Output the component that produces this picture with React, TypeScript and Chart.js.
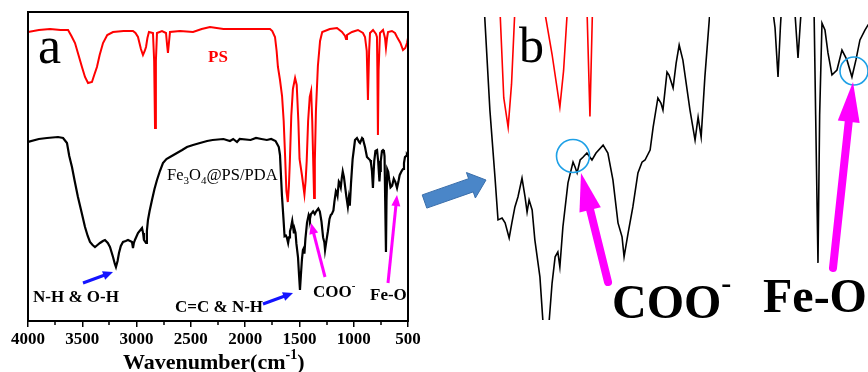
import React, { useEffect, useRef } from "react";
import { Chart, registerables } from "chart.js";

Chart.register(...registerables);

const SERIF = "'Liberation Serif', 'Times New Roman', Times, serif";

// x-axis ticks (cm^-1)
const xTickValues = [4000, 3500, 3000, 2500, 2000, 1500, 1000, 500];
const xMinorTickValues = [3750, 3250, 2750, 2250, 1750, 1250, 750];

// PS spectrum: [wavenumber, transmittance (a.u.)]
const psSpectrum: number[][] = [
  [4000, 289], [3900, 291], [3797, 292], [3700, 291], [3631, 291], [3600, 285], [3567, 278],
  [3535, 266], [3503, 254], [3475, 244], [3447, 238], [3411, 239], [3390, 246], [3365, 254],
  [3340, 266], [3309, 278], [3270, 286], [3217, 289], [3120, 290], [3033, 290], [3010, 288],
  [2987, 284], [2960, 272], [2941, 266], [2925, 270], [2913, 274], [2900, 283], [2886, 289],
  [2849, 288], [2838, 260], [2830, 193], [2822, 260], [2812, 288], [2766, 290], [2729, 288],
  [2718, 275], [2711, 268], [2702, 278], [2692, 289], [2600, 290], [2480, 289], [2400, 292],
  [2324, 294], [2200, 292], [2000, 292], [1850, 292], [1771, 292], [1750, 290], [1725, 284],
  [1710, 270], [1698, 254], [1679, 241], [1660, 225], [1645, 200], [1632, 165], [1620, 130],
  [1607, 119], [1597, 135], [1588, 160], [1575, 205], [1560, 232], [1540, 243], [1525, 236],
  [1510, 200], [1499, 162], [1477, 146], [1454, 126.5], [1443, 140], [1433, 160], [1420, 200],
  [1405, 224], [1392, 230], [1382, 200], [1372, 155], [1365, 123], [1358, 160], [1348, 210],
  [1330, 255], [1310, 280], [1290, 289], [1220, 292], [1154, 293], [1108, 289], [1080, 285],
  [1071, 282], [1062, 286], [1016, 289], [961, 291], [915, 288], [896, 284], [880, 270],
  [869, 221], [858, 270], [850, 288], [822, 291], [795, 287], [786, 284], [782, 250],
  [777, 186], [771, 250], [758, 288], [730, 291], [712, 283], [703, 273], [693, 283],
  [684, 289], [648, 290], [620, 288], [601, 284], [570, 278], [546, 271], [525, 273],
  [509, 278], [500, 283],
];

// Fe3O4@PS/PDA spectrum: [wavenumber, transmittance (a.u.)]
const pdaSpectrum: number[][] = [
  [4000, 179], [3900, 182], [3825, 183], [3724, 184], [3677, 183], [3641, 178], [3620, 165],
  [3595, 154], [3570, 140], [3540, 124], [3505, 108], [3475, 94], [3450, 85], [3429, 79],
  [3405, 76], [3383, 74], [3360, 76], [3337, 78], [3310, 80], [3291, 81], [3265, 78],
  [3245, 74], [3217, 64], [3200, 57], [3190, 54], [3175, 60], [3162, 68], [3145, 75],
  [3125, 79], [3100, 80], [3079, 81], [3060, 80], [3042, 79], [3033, 73], [3025, 78],
  [3015, 81], [2987, 88], [2950, 93], [2940, 88], [2932, 81], [2913, 78], [2905, 90],
  [2895, 101], [2880, 110], [2858, 121], [2835, 132], [2812, 141], [2785, 150], [2757, 158],
  [2725, 162], [2692, 164], [2660, 166], [2628, 168], [2580, 171], [2536, 174], [2480, 176],
  [2416, 178], [2350, 180], [2300, 181], [2200, 182], [2140, 180], [2110, 182], [2075, 179],
  [2050, 182], [1950, 181], [1900, 183], [1850, 182], [1800, 181], [1760, 182], [1720, 180],
  [1705, 177], [1690, 174], [1679, 166], [1661, 125.4], [1646, 100.6], [1637, 84.7],
  [1625, 85.4], [1616, 83.6], [1604, 78], [1596, 83.6], [1587, 89.5], [1578, 93.2],
  [1566, 100.2], [1557, 93.2], [1551, 87.6], [1545, 92.1], [1536, 88.4], [1528, 77.3],
  [1513, 63.6], [1503, 45], [1495, 31], [1487, 45], [1477, 61.3], [1468, 71], [1460, 72.8],
  [1454, 67.3], [1445, 82.1], [1430, 98.4], [1415, 106.1], [1409, 104.3], [1403, 102.1],
  [1394, 106.9], [1385, 108], [1374, 109.5], [1359, 106.9], [1347, 109.5], [1326, 112.4],
  [1312, 109.5], [1297, 99.5], [1282, 83.6], [1270, 78.4], [1264, 71], [1252, 79.9],
  [1238, 89.5], [1223, 102.1], [1211, 106.1], [1202, 106.9], [1187, 110.6], [1178, 119.1],
  [1164, 129.9], [1155, 128], [1149, 125.4], [1137, 139.5], [1131, 138.4], [1119, 133.6],
  [1110, 142.8], [1101, 149.5], [1090, 143.9], [1069, 125.4], [1054, 114.3], [1045, 122.8],
  [1036, 115.4], [1025, 137.6], [1010, 162], [988, 181], [970, 183], [950, 179], [942, 178],
  [923, 183], [915, 182], [896, 174], [878, 164], [860, 162], [850, 161], [841, 158],
  [832, 150], [823, 133], [816, 150], [811, 160], [800, 170], [785, 171], [775, 160],
  [768, 148], [763, 139.6], [757, 150], [751, 160], [740, 170], [730, 171], [722, 170],
  [716, 165], [710, 120], [703, 68.9], [698, 120], [691, 151.6], [682, 149.2], [673, 141.3],
  [661, 133.7], [646, 135.4], [631, 142.3], [616, 138.9], [601, 133], [589, 138.9],
  [577, 145.8], [562, 149.2], [553, 150.9], [546, 152], [537, 158], [528, 164], [518, 165],
  [510, 166], [500, 164],
];

// zoom windows used in panel b: [wavenumber from, wavenumber to], [signal min, signal max]
const zoomCOO = { x: [1009.8, 1681.4], y: [47.6, 159.9] };
const zoomFeO = { x: [552.8, 841.1], y: [49.2, 153.7] };

const toPoints = (arr: number[][]) => arr.map(([x, y]) => ({ x, y }));

const framePlugin = {
  id: "frameAndMinor",
  afterDraw(chart: any) {
    const { ctx, chartArea } = chart;
    const xs = chart.scales.x;
    ctx.save();
    ctx.strokeStyle = "#000";
    ctx.lineWidth = 2;
    ctx.strokeRect(chartArea.left, chartArea.top, chartArea.right - chartArea.left, chartArea.bottom - chartArea.top);
    ctx.lineWidth = 1.5;
    ctx.beginPath();
    xMinorTickValues.forEach((v) => {
      const px = Math.round(xs.getPixelForValue(v));
      ctx.moveTo(px, chartArea.bottom);
      ctx.lineTo(px, chartArea.bottom + 4);
    });
    ctx.stroke();
    ctx.restore();
  },
};

function MainChart() {
  const ref = useRef<HTMLCanvasElement>(null);
  useEffect(() => {
    const chart = new Chart(ref.current as HTMLCanvasElement, {
      type: "line",
      data: {
        datasets: [
          { label: "PS", data: toPoints(psSpectrum), borderColor: "#ff0000", borderWidth: 2, pointRadius: 0, tension: 0 },
          { label: "Fe3O4@PS/PDA", data: toPoints(pdaSpectrum), borderColor: "#000000", borderWidth: 2.2, pointRadius: 0, tension: 0 },
        ],
      },
      options: {
        animation: false,
        responsive: false,
        maintainAspectRatio: false,
        layout: { padding: { left: 28, right: 16, top: 12, bottom: 0 } },
        plugins: { legend: { display: false }, tooltip: { enabled: false } },
        scales: {
          x: {
            type: "linear",
            min: 500,
            max: 4000,
            reverse: true,
            afterBuildTicks: (s: any) => {
              s.ticks = xTickValues.map((v) => ({ value: v }));
            },
            afterFit: (s: any) => {
              s.height = 51;
            },
            ticks: {
              font: { family: SERIF, size: 17, weight: "bold" },
              color: "#000",
              padding: 2,
              maxRotation: 0,
              autoSkip: false,
              callback: (v: any) => String(v),
            },
            grid: { drawOnChartArea: false, drawTicks: true, tickLength: 6, color: "#000", lineWidth: 1.5 },
            border: { display: false },
          },
          y: { display: false, min: 0, max: 309 },
        },
      } as any,
      plugins: [framePlugin],
    });
    return () => chart.destroy();
  }, []);
  return (
    <canvas
      ref={ref}
      width={424}
      height={372}
      style={{ position: "absolute", left: 0, top: 0, width: 424, height: 372 }}
    />
  );
}

function ZoomChart(props: { left: number; top: number; width: number; height: number; win: { x: number[]; y: number[] } }) {
  const ref = useRef<HTMLCanvasElement>(null);
  const { left, top, width, height, win } = props;
  useEffect(() => {
    const chart = new Chart(ref.current as HTMLCanvasElement, {
      type: "line",
      data: {
        datasets: [
          { data: toPoints(psSpectrum), borderColor: "#ff0000", borderWidth: 1.6, pointRadius: 0, tension: 0, clip: 0 },
          { data: toPoints(pdaSpectrum), borderColor: "#000000", borderWidth: 1.6, pointRadius: 0, tension: 0, clip: 0 },
        ],
      },
      options: {
        animation: false,
        responsive: false,
        maintainAspectRatio: false,
        layout: { padding: 0 },
        plugins: { legend: { display: false }, tooltip: { enabled: false } },
        scales: {
          x: { type: "linear", display: false, min: win.x[0], max: win.x[1], reverse: true },
          y: { display: false, min: win.y[0], max: win.y[1] },
        },
      } as any,
    });
    return () => chart.destroy();
  }, []);
  return (
    <canvas ref={ref} width={width} height={height} style={{ position: "absolute", left, top, width, height }} />
  );
}

function arrow(x1: number, y1: number, x2: number, y2: number, headLen: number, headW: number) {
  const dx = x2 - x1, dy = y2 - y1, L = Math.hypot(dx, dy);
  const ux = dx / L, uy = dy / L, nx = -uy, ny = ux;
  const bx = x2 - ux * headLen, by = y2 - uy * headLen;
  return {
    line: { x1, y1, x2: bx + ux * 2, y2: by + uy * 2 },
    head: `${x2},${y2} ${bx + (nx * headW) / 2},${by + (ny * headW) / 2} ${bx - (nx * headW) / 2},${by - (ny * headW) / 2}`,
  };
}

function Arrow(p: { x1: number; y1: number; x2: number; y2: number; w: number; hl: number; hw: number; color: string; cap?: string }) {
  const a = arrow(p.x1, p.y1, p.x2, p.y2, p.hl, p.hw);
  return (
    <g>
      <line {...a.line} stroke={p.color} strokeWidth={p.w} strokeLinecap={(p.cap as any) || "butt"} />
      <polygon points={a.head} fill={p.color} />
    </g>
  );
}

function blockArrow(tx: number, ty: number, px: number, py: number, s: number, h: number, hl: number) {
  const dx = px - tx, dy = py - ty, L = Math.hypot(dx, dy);
  const ux = dx / L, uy = dy / L, nx = -uy, ny = ux;
  const bx = px - ux * hl, by = py - uy * hl;
  const pts = [
    [tx + nx * s, ty + ny * s],
    [bx + nx * s, by + ny * s],
    [bx + nx * h, by + ny * h],
    [px, py],
    [bx - nx * h, by - ny * h],
    [bx - nx * s, by - ny * s],
    [tx - nx * s, ty - ny * s],
  ];
  return pts.map((q) => q.join(",")).join(" ");
}

function Overlay() {
  const tf = { fontFamily: SERIF, fill: "#000" } as any;
  return (
    <svg width={868} height={372} style={{ position: "absolute", left: 0, top: 0, pointerEvents: "none" }}>
      {/* panel a labels */}
      <text x={38} y={63} fontSize={52} {...tf}>a</text>
      <text x={208} y={62} fontSize={17} fontWeight="bold" fontFamily={SERIF} fill="#ff0000">PS</text>
      <text x={167} y={180} fontSize={16.5} {...tf}>
        Fe<tspan fontSize={11} dy={4}>3</tspan>
        <tspan dy={-4}>O</tspan>
        <tspan fontSize={11} dy={4}>4</tspan>
        <tspan dy={-4}>@PS/PDA</tspan>
      </text>
      <text x={33} y={302} fontSize={17} fontWeight="bold" {...tf}>{"N-H & O-H"}</text>
      <text x={175} y={312} fontSize={17} fontWeight="bold" {...tf}>{"C=C & N-H"}</text>
      <text x={313} y={297} fontSize={17} fontWeight="bold" {...tf}>
        COO<tspan fontSize={11} dy={-8}>-</tspan>
      </text>
      <text x={370} y={300} fontSize={17} fontWeight="bold" {...tf}>Fe-O</text>
      <Arrow x1={83} y1={283} x2={113} y2={272} w={3} hl={10} hw={9} color="#1414ff" />
      <Arrow x1={263} y1={304} x2={293} y2={293} w={3} hl={10} hw={9} color="#1414ff" />
      <Arrow x1={325} y1={277} x2={311} y2={223} w={3} hl={11} hw={9} color="#ff00ff" />
      <Arrow x1={388} y1={283} x2={397} y2={195} w={3} hl={11} hw={9} color="#ff00ff" />
      {/* axis title */}
      <text x={123} y={369} fontSize={22} fontWeight="bold" {...tf}>
        Wavenumber(cm<tspan fontSize={14} dy={-10}>-1</tspan>
        <tspan dy={10}>)</tspan>
      </text>
      {/* connector arrow */}
      <polygon
        points={blockArrow(424.5, 201.5, 486, 180, 7, 13.5, 16)}
        fill="#4a86c8"
        stroke="#3a6eaa"
        strokeWidth={1}
      />
      {/* panel b labels */}
      <text x={519} y={62} fontSize={50} {...tf}>b</text>
      <circle cx={573} cy={156} r={16.5} fill="none" stroke="#1ea0e6" strokeWidth={1.6} />
      <circle cx={854} cy={71} r={14} fill="none" stroke="#1ea0e6" strokeWidth={1.6} />
      <Arrow x1={608} y1={282} x2={581} y2={173} w={8} hl={38} hw={22} color="#ff00ff" cap="round" />
      <Arrow x1={833} y1={268} x2={853} y2={82} w={8} hl={40} hw={22} color="#ff00ff" cap="round" />
      <text x={612} y={318} fontSize={48} fontWeight="bold" {...tf}>
        COO<tspan fontSize={30} dy={-25}>-</tspan>
      </text>
      <text x={763} y={312} fontSize={48} fontWeight="bold" {...tf}>Fe-O</text>
    </svg>
  );
}

export default function App() {
  return (
    <div
      style={{
        position: "fixed",
        left: 0,
        top: 0,
        width: 868,
        height: 372,
        background: "#ffffff",
        overflow: "hidden",
      }}
    >
      <MainChart />
      <ZoomChart left={483} top={17} width={227} height={303} win={zoomCOO} />
      <ZoomChart left={772} top={17} width={96} height={303} win={zoomFeO} />
      <Overlay />
    </div>
  );
}
